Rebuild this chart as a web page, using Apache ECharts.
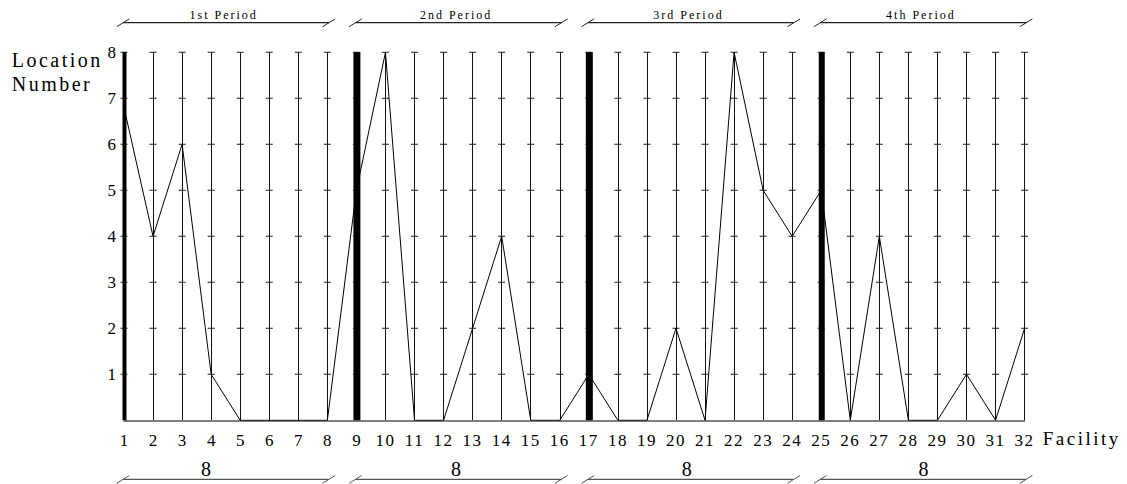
<!DOCTYPE html>
<html>
<head>
<meta charset="utf-8">
<script src="https://cdn.jsdelivr.net/npm/echarts@6/dist/echarts.min.js"></script>
<style>
  html, body { margin: 0; padding: 0; background: #fff; }
  #chart { width: 1127px; height: 484px; }
</style>
</head>
<body>
<div id="chart"></div>
<script>
// ---- data ----
const facilities = [1,2,3,4,5,6,7,8,9,10,11,12,13,14,15,16,17,18,19,20,21,22,23,24,25,26,27,28,29,30,31,32];
const locationNumber = [6.8,4,6,1,0,0,0,0,5,8,0,0,2,4,0,0,1,0,0,2,0,8,5,4,5,0,4,0,0,1,0,2];
const locationTicks = [1,2,3,4,5,6,7,8];
const periodLabels = ['1st Period','2nd Period','3rd Period','4th Period'];
const periodStart = [1,9,17,25];
const periodEnd = [8,16,24,32];
const periodCount = [8,8,8,8];

// ---- styles / layout ----
const FONT = '"Liberation Serif", "Times New Roman", serif';
const boundaryWidths = [4,7,7,6];
const countLabelShift = [-0.68,-0.07,-0.13,0.02]; // small horizontal nudges (axis units)

const chart = echarts.init(document.getElementById('chart'), null, {renderer: 'svg'});

const tickData = [];
facilities.forEach(f => locationTicks.forEach(t => tickData.push([f, t])));

const option = {
  animation: false,
  backgroundColor: '#fff',
  grid: { left: 124, right: 102.4, top: 52.3, bottom: 63.7, containLabel: false, outerBoundsMode: 'none' },
  xAxis: {
    type: 'value', min: 1, max: 32, interval: 1,
    axisLine: { show: true, lineStyle: { color: '#555', width: 1.5 } },
    axisTick: { show: false },
    splitLine: { show: true, lineStyle: { color: '#111', width: 1 } },
    axisLabel: { margin: 12, fontSize: 17, fontFamily: FONT, color: '#000' }
  },
  yAxis: {
    type: 'value', min: 0, max: 8, interval: 1,
    axisLine: { show: false }, axisTick: { show: false }, splitLine: { show: false },
    axisLabel: { margin: 8, fontSize: 17, fontFamily: FONT, color: '#000',
      formatter: v => (v === 0 ? '' : String(v)) }
  },
  graphic: [
    { type: 'text', left: 11.7, top: 50, style: { text: 'Location', font: '20px ' + FONT, fill: '#000' } },
    { type: 'text', left: 11.7, top: 74, style: { text: 'Number', font: '20px ' + FONT, fill: '#000' } },
    { type: 'text', left: 1042.7, top: 429, style: { text: 'Facility', font: '19px ' + FONT, fill: '#000' } }
  ],
  series: [
    {
      type: 'scatter', silent: true, z: 2,
      symbol: 'rect', symbolSize: [7, 1.2],
      itemStyle: { color: '#111' },
      data: tickData
    },
    {
      type: 'line', silent: true, z: 3,
      showSymbol: false, symbol: 'none',
      lineStyle: { color: '#000', width: 1 },
      data: facilities.map((f, i) => [f, locationNumber[i]])
    },
    {
      type: 'custom', silent: true, z: 4,
      encode: { x: 0, y: 1 },
      data: periodStart.map(s => [s, 8]),
      renderItem: function (params, api) {
        const top = api.coord([api.value(0), 8]);
        const bot = api.coord([api.value(0), 0]);
        const w = boundaryWidths[params.dataIndex];
        return { type: 'rect', shape: { x: top[0] - w / 2 + 0.5, y: top[1], width: w, height: bot[1] - top[1] },
                 style: { fill: '#000' } };
      }
    },
    {
      type: 'custom', silent: true, z: 5, clip: false,
      encode: { x: [0, 1], y: 2 },
      data: periodStart.map((s, i) => [s, periodEnd[i], 8]),
      renderItem: function (params, api) {
        const i = params.dataIndex;
        const a = api.coord([api.value(0), 8]);
        const b = api.coord([api.value(1), 8]);
        const z0 = api.coord([api.value(0), 0]);
        const yt = a[1] - 29.6;
        const yb = z0[1] + 59;
        const x1 = a[0] - 1, x2 = b[0] + 1.5;
        const cx = (a[0] + b[0]) / 2;
        const step = (b[0] - a[0]) / 7;
        const lc = '#222', lb = '#555';
        const slash = (x, y, c) => ({ type: 'line', shape: { x1: x - 6.3, y1: y + 4, x2: x + 6.3, y2: y - 3.8 }, style: { stroke: c, lineWidth: 1 } });
        return {
          type: 'group',
          children: [
            { type: 'line', shape: { x1: x1, y1: yt, x2: x2, y2: yt }, style: { stroke: lc, lineWidth: 1.2 } },
            slash(x1, yt, lc), slash(x2, yt, lc),
            { type: 'text', style: { text: periodLabels[i], x: cx - 2, y: yt - 8, font: '12px ' + FONT, fill: '#000', align: 'center', verticalAlign: 'middle' } },
            { type: 'line', shape: { x1: x1, y1: yb, x2: x2, y2: yb }, style: { stroke: lb, lineWidth: 1.2 } },
            slash(x1, yb, lb), slash(x2, yb, lb),
            { type: 'text', style: { text: String(periodCount[i]), x: cx + countLabelShift[i] * step, y: yb - 10, font: '20px ' + FONT, fill: '#000', align: 'center', verticalAlign: 'middle' } }
          ]
        };
      }
    }
  ]
};

chart.setOption(option);

function applySpacing() {
  document.querySelectorAll('#chart svg text').forEach(t => {
    const s = (t.textContent || '').trim();
    let ls = 0;
    if (/Period/.test(s)) ls = 2;
    else if (/^[A-Za-z]/.test(s)) ls = 2.5;
    else if (s.length > 1) ls = 1.5;
    if (ls) t.setAttribute('letter-spacing', ls);
  });
}
applySpacing();
chart.on('finished', applySpacing);
</script>
</body>
</html>
